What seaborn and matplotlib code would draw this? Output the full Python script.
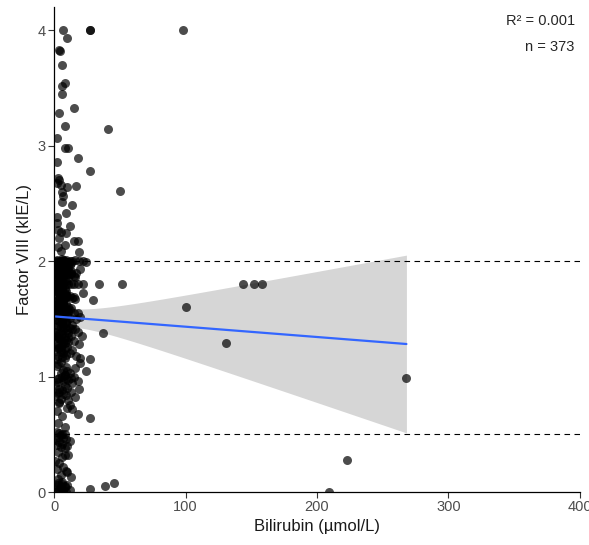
import numpy as np
import pandas as pd
import matplotlib
matplotlib.use("Agg")
import matplotlib.pyplot as plt
import seaborn as sns


# Bilirubin (umol/L) and Factor VIII (kIE/L), band by band
bili_upper = [7, 27, 27.5, 10, 4, 4.5, 6, 8, 6, 6, 15, 4, 8, 41, 2,
              8, 11, 18, 2, 27, 3, 4, 2, 5, 10, 17, 50, 6, 6, 14,
              9, 2, 3, 5, 9, 15, 18, 8, 5, 19, 2, 7, 4, 12, 3]
f8_upper = [4.0, 4.0, 4.0, 3.93, 3.83, 3.82, 3.7, 3.54, 3.52, 3.45, 3.33, 3.28, 3.17, 3.14, 3.07,
            2.98, 2.98, 2.89, 2.86, 2.78, 2.72, 2.70, 2.68, 2.66, 2.64, 2.65, 2.61, 2.60, 2.51, 2.49,
            2.42, 2.33, 2.27, 2.25, 2.24, 2.17, 2.17, 2.14, 2.09, 2.08, 2.38, 2.56, 2.20, 2.30, 2.12]

bili_mid = [1, 2, 3, 4, 5, 6, 7, 8, 10, 12, 14, 16, 19, 22, 24,
            2, 4, 6, 9, 13, 17, 3, 7, 11, 5, 20, 8, 1, 15, 10,
            1, 2, 3, 4, 5, 6, 7, 9, 11, 13, 15, 18, 22, 34, 52,
            2, 3, 5, 6, 8, 10, 12, 14, 16, 22, 30, 4, 7, 9, 1,
            3, 5, 11, 13, 2, 6, 8, 15, 18, 4, 10, 7, 20, 12, 1,
            2, 4, 6, 9, 14, 3, 5, 8, 12, 16, 7, 10, 1, 18, 11,
            37, 4, 6, 2, 13, 8, 3, 9, 5, 15, 7, 11, 2, 19, 6,
            10, 3, 4, 8, 14, 1, 5, 12, 7, 9, 17, 3, 6, 20, 2]
f8_mid = [2.0, 2.01, 2.0, 1.99, 2.0, 2.0, 2.01, 2.0, 1.99, 2.0, 2.0, 2.01, 2.0, 2.0, 1.99,
          1.96, 1.95, 1.93, 1.92, 1.91, 1.90, 1.88, 1.86, 1.85, 1.84, 1.93, 1.97, 1.90, 1.87, 1.89,
          1.8, 1.8, 1.8, 1.8, 1.8, 1.8, 1.8, 1.8, 1.8, 1.8, 1.8, 1.8, 1.8, 1.8, 1.8,
          1.78, 1.76, 1.75, 1.73, 1.72, 1.70, 1.70, 1.68, 1.67, 1.72, 1.66, 1.65, 1.64, 1.63, 1.62,
          1.61, 1.60, 1.60, 1.59, 1.58, 1.57, 1.56, 1.55, 1.55, 1.54, 1.53, 1.52, 1.52, 1.51, 1.50,
          1.49, 1.48, 1.47, 1.46, 1.45, 1.44, 1.43, 1.42, 1.42, 1.41, 1.40, 1.40, 1.39, 1.39, 1.38,
          1.38, 1.37, 1.36, 1.35, 1.35, 1.34, 1.33, 1.32, 1.31, 1.31, 1.30, 1.30, 1.29, 1.28, 1.27,
          1.26, 1.25, 1.25, 1.24, 1.23, 1.22, 1.21, 1.20, 1.20, 1.19, 1.18, 1.18, 1.17, 1.16, 1.15]

bili_low = [27, 20, 4, 8, 11, 3, 6, 13, 24, 5, 9, 2, 16, 7, 10,
            3, 5, 12, 1, 8, 6, 15, 4, 9, 2, 11, 7, 18, 3, 14,
            5, 8, 2, 10, 19, 4, 6, 13, 3, 7, 9, 1, 16, 5, 11,
            2, 6, 4, 8, 12, 3, 10, 5, 14, 7, 2, 9, 18, 4, 6,
            27, 3, 8, 5, 11, 1, 7, 13, 4, 9, 2, 6, 15, 3, 10,
            2, 4, 6, 8, 5, 3, 7, 9, 1, 12, 4, 6, 2, 10, 5,
            8, 3, 11, 6, 1, 4, 8, 7, 2, 9, 5, 13, 3, 6, 10,
            3, 6, 10, 2, 8, 5, 8, 1, 5, 4, 12, 7, 3, 7, 9]
f8_low = [1.15, 1.12, 1.94, 1.93, 1.92, 1.11, 1.88, 1.90, 1.05, 1.86, 1.08, 1.84, 1.07, 1.06, 1.05,
          1.94, 1.03, 1.03, 1.92, 1.01, 1.00, 1.00, 0.99, 0.98, 0.98, 0.97, 0.96, 0.96, 0.95, 0.94,
          1.93, 0.92, 1.91, 0.90, 0.89, 0.89, 0.88, 0.87, 0.86, 0.85, 0.84, 0.83, 0.82, 0.81, 0.80,
          1.79, 1.78, 0.77, 1.76, 0.75, 1.74, 0.73, 1.72, 0.72, 1.71, 0.70, 1.69, 0.68, 1.67, 0.66,
          0.64, 0.60, 0.56, 1.98, 1.96, 1.94, 1.91, 1.89, 1.87, 1.83, 1.79, 1.77, 1.69, 1.59, 1.49,
          0.52, 0.51, 0.50, 0.50, 0.49, 0.48, 0.47, 0.46, 0.45, 0.44, 0.43, 0.42, 0.41, 0.40, 0.39,
          0.38, 0.35, 0.32, 0.30, 0.27, 0.25, 0.32, 0.22, 0.20, 0.18, 0.15, 0.13, 0.11, 0.09, 0.17,
          0.08, 0.07, 0.06, 0.06, 0.05, 0.05, 0.04, 0.04, 0.03, 0.03, 0.02, 0.02, 0.01, 0.01, 0.00]

bili_dense = [1, 3, 5, 2, 10, 6, 8, 7, 3, 5, 7, 2, 4, 6, 9,
              8, 10, 1, 3, 6, 5, 8, 2, 13, 4, 1, 3, 16, 6, 9,
              11, 9, 12, 6, 4, 9, 2, 6, 11, 3, 5, 8, 1, 4, 12,
              6, 2, 9, 4, 3, 7, 1, 5, 8, 2, 13, 4, 6, 3, 17,
              2, 5, 8, 4, 7, 1, 11, 3, 6, 9, 2, 14, 5, 4, 8, 21]
f8_dense = [1.85, 1.75, 1.65, 1.55, 1.95, 1.70, 1.60, 1.90, 1.80, 1.52, 1.66, 1.62, 1.72, 1.82, 1.58,
            1.92, 1.88, 1.76, 1.64, 1.54, 1.78, 1.68, 1.58, 1.98, 1.84, 1.74, 1.70, 1.86, 1.60, 1.94,
            1.99, 2.01, 1.97, 2.02, 1.83, 1.71, 1.63, 1.46, 1.34, 1.27, 1.13, 1.01, 0.93, 0.78, 1.58,
            1.81, 1.79, 1.74, 1.69, 1.57, 1.44, 1.36, 1.24, 1.16, 1.09, 0.99, 0.87, 1.74, 1.62, 1.50,
            1.77, 1.73, 1.69, 1.67, 1.63, 1.61, 1.57, 1.53, 1.51, 1.47, 1.43, 1.41, 1.37, 1.33, 1.29, 1.35]

# the few patients with high bilirubin
bili_far = [98, 100, 131, 144, 152, 158, 268, 223, 209, 27, 39, 46]
f8_far = [4.0, 1.6, 1.29, 1.8, 1.8, 1.8, 0.99, 0.28, 0.0, 0.03, 0.05, 0.08]

ref_lines = [2.0, 0.5]

df = pd.DataFrame({
    "bilirubin": bili_upper + bili_mid + bili_low + bili_dense + bili_far,
    "factor8": f8_upper + f8_mid + f8_low + f8_dense + f8_far,
})
print("n =", len(df))

sns.set_style("white")
plt.rcParams["font.family"] = ["Liberation Sans", "DejaVu Sans"]

fig = plt.figure(figsize=(5.89, 5.45), dpi=100)
ax = fig.add_axes([0.0917, 0.0972, 0.893, 0.8898])

sns.regplot(data=df, x="bilirubin", y="factor8", ax=ax, color="black", ci=None,
            scatter_kws={"s": 42, "alpha": 0.7, "linewidths": 0},
            line_kws={"color": "#3366FF", "lw": 1.6})

# ggplot-style (lm, t-based) 95% band, drawn under the points
x = df["bilirubin"].to_numpy(float)
y = df["factor8"].to_numpy(float)
n = len(x)
slope, icept = np.polyfit(x, y, 1)
resid = y - (icept + slope * x)
s = np.sqrt((resid ** 2).sum() / (n - 2))
sxx = ((x - x.mean()) ** 2).sum()
grid = np.linspace(x.min(), x.max(), 100)
fit = icept + slope * grid
half = 1.9665 * s * np.sqrt(1 / n + (grid - x.mean()) ** 2 / sxx)
ax.fill_between(grid, fit - half, fit + half, color="#999999", alpha=0.4, lw=0, zorder=0.5)
print("fit at 0 / 268:", icept, icept + slope * 268, "half at 268:", half[-1])

for yv in ref_lines:
    ax.axhline(yv, color="black", lw=0.8, ls=(0, (5, 4)), zorder=0.8)

ax.set_xlim(0, 400)
ax.set_ylim(0, 4.2)
ax.set_xticks([0, 100, 200, 300, 400])
ax.set_yticks([0, 1, 2, 3, 4])
ax.set_xlabel("Bilirubin (µmol/L)", fontsize=12, color="#1a1a1a", labelpad=3)
ax.set_ylabel("Factor VIII (kIE/L)", fontsize=12, color="#1a1a1a", labelpad=4)
ax.tick_params(axis="both", direction="out", length=4, width=0.8, color="#333333",
               labelsize=10.5, labelcolor="#4d4d4d", bottom=True, left=True, pad=2)
sns.despine(ax=ax)
for side in ["left", "bottom"]:
    ax.spines[side].set_linewidth(0.9)
    ax.spines[side].set_color("black")

ax.text(0.99, 0.985, "R² = 0.001", transform=ax.transAxes, ha="right", va="top", fontsize=10.5)
ax.text(0.99, 0.932, "n = 373", transform=ax.transAxes, ha="right", va="top", fontsize=10.5)

fig.savefig("out.png", dpi=100)
